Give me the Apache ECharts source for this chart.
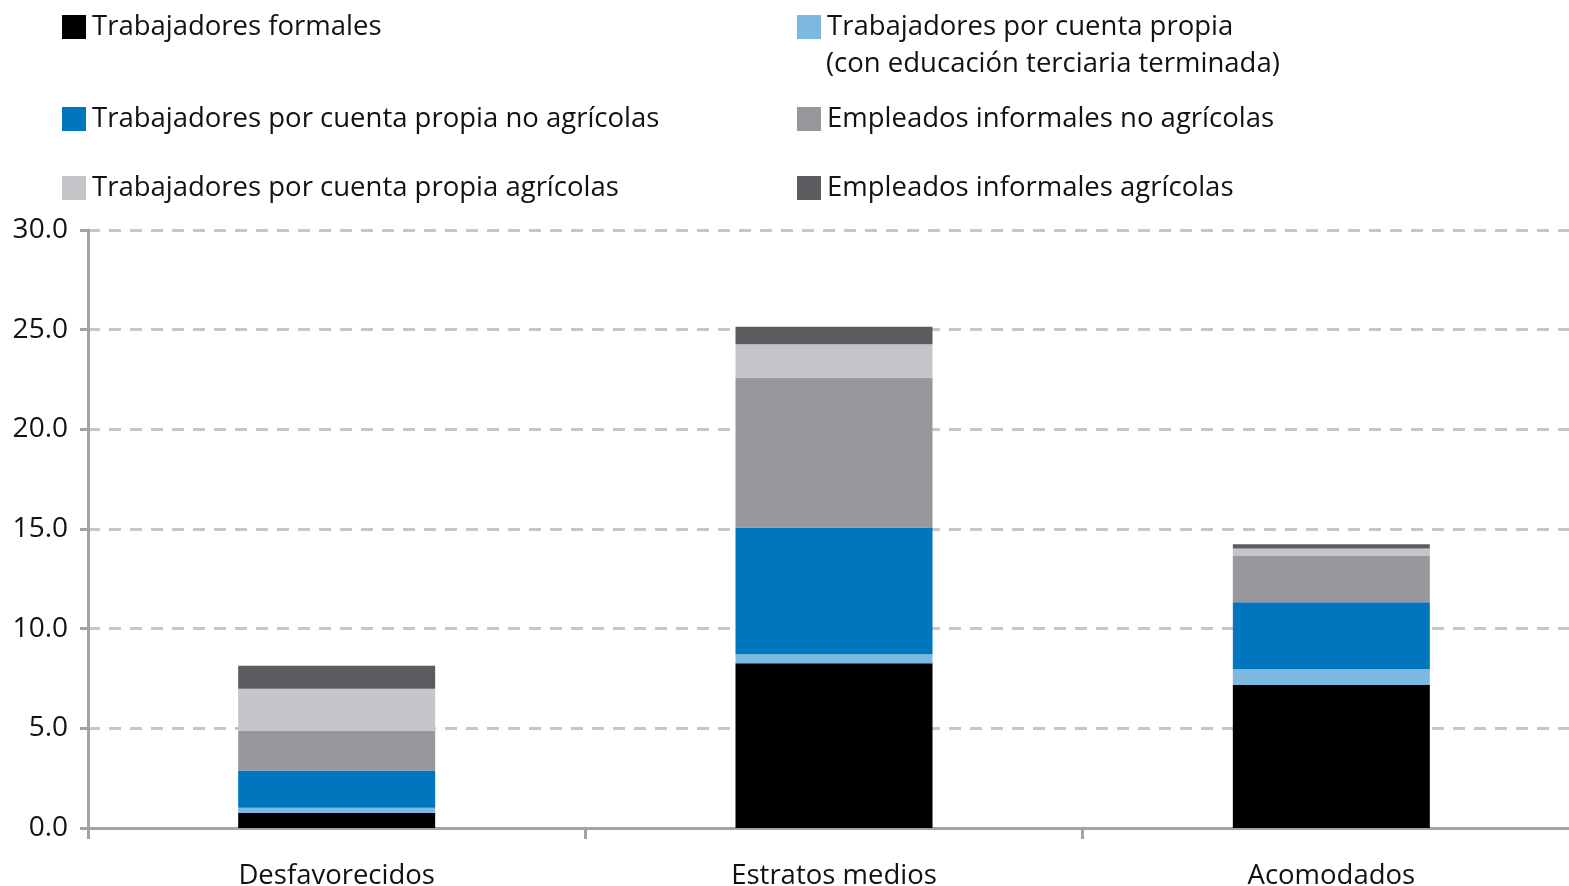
<!DOCTYPE html>
<html lang="es">
<head>
    <meta charset="UTF-8">
    <title>Estratos</title>
    <script src="https://cdn.jsdelivr.net/npm/echarts@6/dist/echarts.min.js"></script>
    <style>
        html, body { margin: 0; padding: 0; background: #fff; }
        #main { width: 1569px; height: 886px; }
    </style>
</head>
<body>
    <div id="main"></div>
    <script>
        const categories = ["Desfavorecidos", "Estratos medios", "Acomodados"];

        const formales = [0.75, 8.27, 7.18];
        const terciaria = [0.27, 0.45, 0.80];
        const propiaNoAgr = [1.87, 6.35, 3.35];
        const empleadosNoAgr = [2.00, 7.53, 2.32];
        const propiaAgr = [2.10, 1.67, 0.37];
        const empleadosAgr = [1.15, 0.88, 0.21];

        const yTicks = [0, 5, 10, 15, 20, 25, 30];

        const font = "'Open Sans', sans-serif";
        const textColor = '#111118';
        const chart = echarts.init(document.getElementById('main'));

        function makeSeries(name, data, color) {
            return {
                name: name,
                type: 'bar',
                stack: 'total',
                data: data,
                barWidth: 197,
                itemStyle: { color: color },
                emphasis: { disabled: true }
            };
        }

        function legendAt(name, left, top) {
            return {
                data: [{ name: name, icon: 'rect' }],
                left: left,
                top: top,
                itemWidth: 24,
                itemHeight: 24,
                itemGap: 0,
                padding: 0,
                selectedMode: false,
                textStyle: { fontFamily: font, fontSize: 27.5, color: textColor, padding: [0, 0, 0, 1] }
            };
        }

        const option = {
            animation: false,
            legend: [
                legendAt('Trabajadores formales', 62, 13),
                legendAt('Trabajadores por cuenta propia no agrícolas', 62, 105),
                legendAt('Trabajadores por cuenta propia agrícolas', 62, 174),
                legendAt('Trabajadores por cuenta propia', 797, 13),
                legendAt('Empleados informales no agrícolas', 797, 105),
                legendAt('Empleados informales agrícolas', 797, 174)
            ],
            graphic: [{
                type: 'text',
                left: 826,
                top: 50,
                style: {
                    text: '(con educación terciaria terminada)',
                    fontFamily: font,
                    fontSize: 27.5,
                    fill: textColor
                }
            }],
            grid: { left: 88, width: 1492, top: 230, bottom: 58, outerBoundsMode: 'none', containLabel: false },
            xAxis: {
                type: 'category',
                data: categories,
                axisLine: { lineStyle: { color: '#a3a3a3', width: 3 } },
                axisTick: { show: true, length: 11, lineStyle: { color: '#a3a3a3', width: 3 } },
                axisLabel: { fontFamily: font, fontSize: 27.5, color: textColor, margin: 34 }
            },
            yAxis: {
                type: 'value',
                min: yTicks[0],
                max: yTicks[yTicks.length - 1],
                interval: 5,
                axisLine: { show: true, lineStyle: { color: '#a3a3a3', width: 3 } },
                axisTick: { show: true, length: 8, lineStyle: { color: '#a3a3a3', width: 3 } },
                axisLabel: {
                    fontFamily: font, fontSize: 28, color: textColor, margin: 20,
                    formatter: (v) => v.toFixed(1)
                },
                splitLine: { lineStyle: { color: '#c6c6c6', width: 3, type: [12, 9] } }
            },
            series: [
                makeSeries('Trabajadores formales', formales, '#000000'),
                makeSeries('Trabajadores por cuenta propia', terciaria, '#7cb8df'),
                makeSeries('Trabajadores por cuenta propia no agrícolas', propiaNoAgr, '#0076be'),
                makeSeries('Empleados informales no agrícolas', empleadosNoAgr, '#98979c'),
                makeSeries('Trabajadores por cuenta propia agrícolas', propiaAgr, '#c4c5c9'),
                makeSeries('Empleados informales agrícolas', empleadosAgr, '#5c5b60')
            ]
        };

        chart.setOption(option);
    </script>
</body>
</html>
